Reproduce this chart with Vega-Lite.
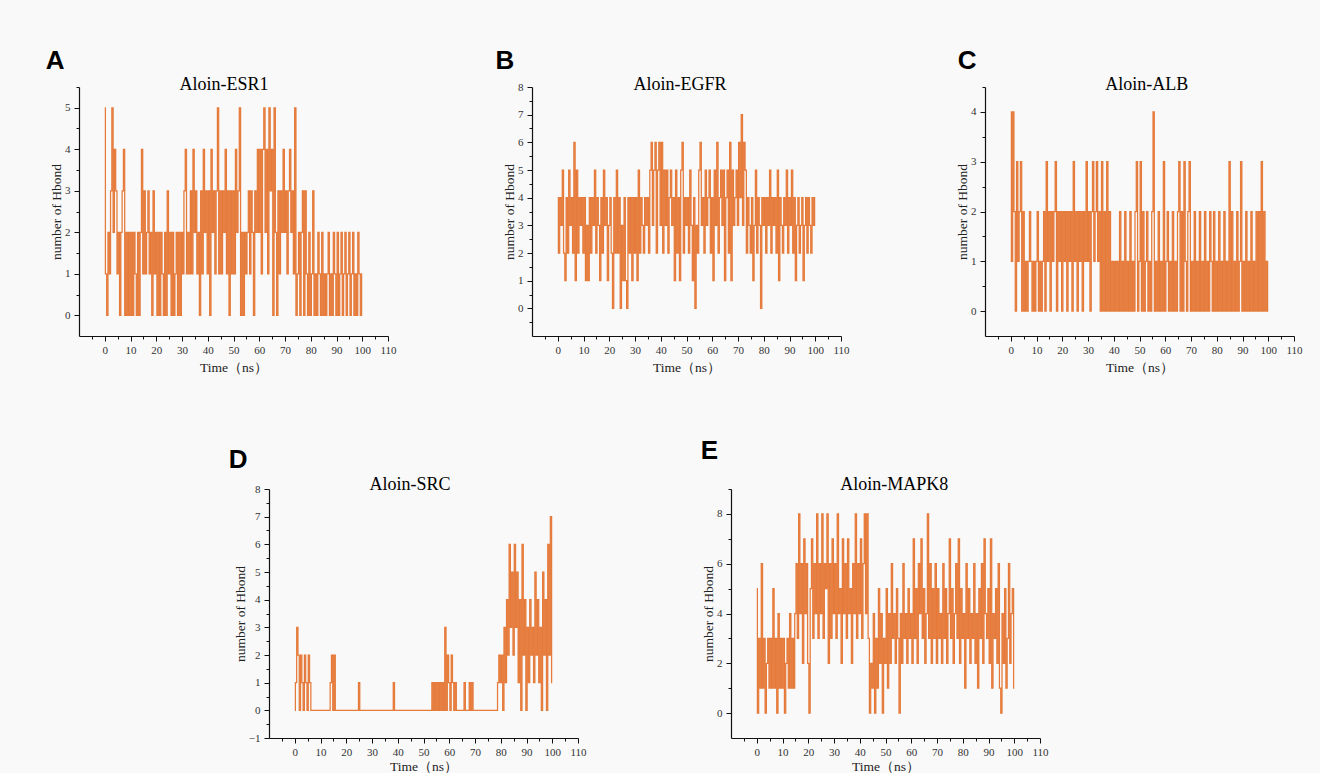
{
  "$schema": "https://vega.github.io/schema/vega-lite/v6.json",
  "autosize": "none",
  "padding": {"left": 79, "top": 87, "right": 1241, "bottom": 686},
  "background": "#f9f9f9",
  "config": {
    "view": {"stroke": null},
    "axis": {"domainColor": "#111", "domainWidth": 1.2, "tickColor": "#111", "tickWidth": 1, "tickSize": 5, "grid": false, "format": "d", "labelFont": "Liberation Serif", "labelFontSize": 11, "labelColor": "#333", "labelOverlap": false, "labelFlush": false, "titleFont": "Liberation Serif", "titleFontSize": 13.5, "titleFontWeight": "normal", "titleColor": "#222"},
    "axisX": {"labelPadding": 3, "titlePadding": 5},
    "axisY": {"labelPadding": 4, "titlePadding": 1},
    "line": {"color": "#e57a3a", "strokeWidth": 1.25, "strokeJoin": "miter", "interpolate": "step"},
    "text": {"font": "Liberation Sans", "fontWeight": "bold", "fontSize": 26, "align": "left", "baseline": "top", "color": "#000"},
    "title": {"font": "Liberation Serif", "fontSize": 18, "fontWeight": "normal", "color": "#000", "anchor": "middle", "frame": "group", "baseline": "alphabetic"}
  },
  "datasets": {
    "esr1": [
      {"t":0,"h":5},{"t":0.5,"h":1},{"t":1,"h":0},{"t":1.5,"h":2},{"t":2,"h":1},{"t":2.5,"h":3},{"t":3,"h":5},{"t":3.5,"h":2},{"t":4,"h":4},{"t":4.5,"h":3},
      {"t":5,"h":1},{"t":5.5,"h":2},{"t":6,"h":0},{"t":6.5,"h":2},{"t":7,"h":3},{"t":7.5,"h":4},{"t":8,"h":0},{"t":8.5,"h":2},{"t":9,"h":0},{"t":9.5,"h":2},
      {"t":10,"h":0},{"t":10.5,"h":2},{"t":11,"h":0},{"t":11.5,"h":2},{"t":12,"h":1},{"t":12.5,"h":0},{"t":13,"h":2},{"t":13.5,"h":0},{"t":14,"h":2},{"t":14.5,"h":4},
      {"t":15,"h":1},{"t":15.5,"h":3},{"t":16,"h":1},{"t":16.5,"h":2},{"t":17,"h":3},{"t":17.5,"h":1},{"t":18,"h":2},{"t":18.5,"h":0},{"t":19,"h":3},{"t":19.5,"h":1},
      {"t":20,"h":2},{"t":20.5,"h":0},{"t":21,"h":2},{"t":21.5,"h":0},{"t":22,"h":2},{"t":22.5,"h":1},{"t":23,"h":0},{"t":23.5,"h":2},{"t":24,"h":0},{"t":24.5,"h":3},
      {"t":25,"h":1},{"t":25.5,"h":2},{"t":26,"h":0},{"t":26.5,"h":2},{"t":27,"h":0},{"t":27.5,"h":1},{"t":28,"h":2},{"t":28.5,"h":0},{"t":29,"h":2},{"t":29.5,"h":0},
      {"t":30,"h":2},{"t":30.5,"h":1},{"t":31,"h":3},{"t":31.5,"h":4},{"t":32,"h":1},{"t":32.5,"h":2},{"t":33,"h":1},{"t":33.5,"h":3},{"t":34,"h":1},{"t":34.5,"h":4},
      {"t":35,"h":2},{"t":35.5,"h":3},{"t":36,"h":1},{"t":36.5,"h":2},{"t":37,"h":0},{"t":37.5,"h":3},{"t":38,"h":1},{"t":38.5,"h":4},{"t":39,"h":2},{"t":39.5,"h":3},
      {"t":40,"h":1},{"t":40.5,"h":3},{"t":41,"h":0},{"t":41.5,"h":4},{"t":42,"h":2},{"t":42.5,"h":3},{"t":43,"h":1},{"t":43.5,"h":3},{"t":44,"h":5},{"t":44.5,"h":1},
      {"t":45,"h":3},{"t":45.5,"h":1},{"t":46,"h":3},{"t":46.5,"h":2},{"t":47,"h":4},{"t":47.5,"h":1},{"t":48,"h":3},{"t":48.5,"h":0},{"t":49,"h":3},{"t":49.5,"h":1},
      {"t":50,"h":3},{"t":50.5,"h":1},{"t":51,"h":4},{"t":51.5,"h":2},{"t":52,"h":3},{"t":52.5,"h":5},{"t":53,"h":0},{"t":53.5,"h":2},{"t":54,"h":0},{"t":54.5,"h":2},
      {"t":55,"h":1},{"t":55.5,"h":2},{"t":56,"h":3},{"t":56.5,"h":1},{"t":57,"h":3},{"t":57.5,"h":2},{"t":58,"h":0},{"t":58.5,"h":3},{"t":59,"h":2},{"t":59.5,"h":4},
      {"t":60,"h":2},{"t":60.5,"h":4},{"t":61,"h":1},{"t":61.5,"h":4},{"t":62,"h":5},{"t":62.5,"h":2},{"t":63,"h":4},{"t":63.5,"h":1},{"t":64,"h":5},{"t":64.5,"h":3},
      {"t":65,"h":4},{"t":65.5,"h":0},{"t":66,"h":5},{"t":66.5,"h":2},{"t":67,"h":0},{"t":67.5,"h":3},{"t":68,"h":1},{"t":68.5,"h":3},{"t":69,"h":2},{"t":69.5,"h":4},
      {"t":70,"h":2},{"t":70.5,"h":3},{"t":71,"h":1},{"t":71.5,"h":3},{"t":72,"h":4},{"t":72.5,"h":2},{"t":73,"h":3},{"t":73.5,"h":1},{"t":74,"h":5},{"t":74.5,"h":0},
      {"t":75,"h":1},{"t":75.5,"h":2},{"t":76,"h":0},{"t":76.5,"h":2},{"t":77,"h":3},{"t":77.5,"h":0},{"t":78,"h":3},{"t":78.5,"h":1},{"t":79,"h":0},{"t":79.5,"h":2},
      {"t":80,"h":0},{"t":80.5,"h":1},{"t":81,"h":3},{"t":81.5,"h":0},{"t":82,"h":1},{"t":82.5,"h":0},{"t":83,"h":2},{"t":83.5,"h":1},{"t":84,"h":0},{"t":84.5,"h":2},
      {"t":85,"h":0},{"t":85.5,"h":1},{"t":86,"h":0},{"t":86.5,"h":1},{"t":87,"h":2},{"t":87.5,"h":0},{"t":88,"h":1},{"t":88.5,"h":0},{"t":89,"h":2},{"t":89.5,"h":1},
      {"t":90,"h":0},{"t":90.5,"h":2},{"t":91,"h":0},{"t":91.5,"h":1},{"t":92,"h":2},{"t":92.5,"h":0},{"t":93,"h":1},{"t":93.5,"h":2},{"t":94,"h":0},{"t":94.5,"h":1},
      {"t":95,"h":2},{"t":95.5,"h":0},{"t":96,"h":1},{"t":96.5,"h":2},{"t":97,"h":0},{"t":97.5,"h":1},{"t":98,"h":0},{"t":98.5,"h":2},{"t":99,"h":1},{"t":99.5,"h":0},
      {"t":100,"h":1}
    ],
    "egfr": [
      {"t":0,"h":4},{"t":0.5,"h":2},{"t":1,"h":4},{"t":1.5,"h":3},{"t":2,"h":5},{"t":2.5,"h":2},{"t":3,"h":1},{"t":3.5,"h":4},{"t":4,"h":2},{"t":4.5,"h":5},
      {"t":5,"h":3},{"t":5.5,"h":4},{"t":6,"h":2},{"t":6.5,"h":6},{"t":7,"h":1},{"t":7.5,"h":5},{"t":8,"h":2},{"t":8.5,"h":4},{"t":9,"h":3},{"t":9.5,"h":4},
      {"t":10,"h":2},{"t":10.5,"h":4},{"t":11,"h":1},{"t":11.5,"h":3},{"t":12,"h":1},{"t":12.5,"h":4},{"t":13,"h":2},{"t":13.5,"h":4},{"t":14,"h":3},{"t":14.5,"h":5},
      {"t":15,"h":2},{"t":15.5,"h":4},{"t":16,"h":3},{"t":16.5,"h":1},{"t":17,"h":4},{"t":17.5,"h":2},{"t":18,"h":5},{"t":18.5,"h":3},{"t":19,"h":4},{"t":19.5,"h":1},
      {"t":20,"h":3},{"t":20.5,"h":4},{"t":21,"h":2},{"t":21.5,"h":0},{"t":22,"h":4},{"t":22.5,"h":2},{"t":23,"h":5},{"t":23.5,"h":2},{"t":24,"h":4},{"t":24.5,"h":0},
      {"t":25,"h":3},{"t":25.5,"h":1},{"t":26,"h":4},{"t":26.5,"h":1},{"t":27,"h":0},{"t":27.5,"h":4},{"t":28,"h":2},{"t":28.5,"h":4},{"t":29,"h":1},{"t":29.5,"h":4},
      {"t":30,"h":2},{"t":30.5,"h":4},{"t":31,"h":1},{"t":31.5,"h":5},{"t":32,"h":2},{"t":32.5,"h":4},{"t":33,"h":3},{"t":33.5,"h":2},{"t":34,"h":4},{"t":34.5,"h":3},
      {"t":35,"h":4},{"t":35.5,"h":2},{"t":36,"h":5},{"t":36.5,"h":6},{"t":37,"h":3},{"t":37.5,"h":5},{"t":38,"h":6},{"t":38.5,"h":2},{"t":39,"h":5},{"t":39.5,"h":6},
      {"t":40,"h":3},{"t":40.5,"h":6},{"t":41,"h":2},{"t":41.5,"h":5},{"t":42,"h":3},{"t":42.5,"h":5},{"t":43,"h":2},{"t":43.5,"h":4},{"t":44,"h":5},{"t":44.5,"h":3},
      {"t":45,"h":4},{"t":45.5,"h":1},{"t":46,"h":5},{"t":46.5,"h":2},{"t":47,"h":4},{"t":47.5,"h":1},{"t":48,"h":5},{"t":48.5,"h":6},{"t":49,"h":2},{"t":49.5,"h":4},
      {"t":50,"h":3},{"t":50.5,"h":4},{"t":51,"h":2},{"t":51.5,"h":5},{"t":52,"h":3},{"t":52.5,"h":1},{"t":53,"h":4},{"t":53.5,"h":0},{"t":54,"h":3},{"t":54.5,"h":2},
      {"t":55,"h":5},{"t":55.5,"h":6},{"t":56,"h":3},{"t":56.5,"h":4},{"t":57,"h":2},{"t":57.5,"h":5},{"t":58,"h":3},{"t":58.5,"h":4},{"t":59,"h":5},{"t":59.5,"h":2},
      {"t":60,"h":4},{"t":60.5,"h":1},{"t":61,"h":5},{"t":61.5,"h":3},{"t":62,"h":6},{"t":62.5,"h":2},{"t":63,"h":4},{"t":63.5,"h":5},{"t":64,"h":3},{"t":64.5,"h":5},
      {"t":65,"h":1},{"t":65.5,"h":4},{"t":66,"h":5},{"t":66.5,"h":2},{"t":67,"h":6},{"t":67.5,"h":1},{"t":68,"h":5},{"t":68.5,"h":3},{"t":69,"h":4},{"t":69.5,"h":5},
      {"t":70,"h":3},{"t":70.5,"h":6},{"t":71,"h":4},{"t":71.5,"h":7},{"t":72,"h":3},{"t":72.5,"h":6},{"t":73,"h":5},{"t":73.5,"h":2},{"t":74,"h":4},{"t":74.5,"h":3},
      {"t":75,"h":2},{"t":75.5,"h":4},{"t":76,"h":1},{"t":76.5,"h":3},{"t":77,"h":5},{"t":77.5,"h":2},{"t":78,"h":4},{"t":78.5,"h":3},{"t":79,"h":0},{"t":79.5,"h":4},
      {"t":80,"h":3},{"t":80.5,"h":4},{"t":81,"h":2},{"t":81.5,"h":4},{"t":82,"h":3},{"t":82.5,"h":5},{"t":83,"h":2},{"t":83.5,"h":4},{"t":84,"h":3},{"t":84.5,"h":4},
      {"t":85,"h":2},{"t":85.5,"h":5},{"t":86,"h":1},{"t":86.5,"h":4},{"t":87,"h":3},{"t":87.5,"h":2},{"t":88,"h":4},{"t":88.5,"h":3},{"t":89,"h":5},{"t":89.5,"h":2},
      {"t":90,"h":4},{"t":90.5,"h":3},{"t":91,"h":5},{"t":91.5,"h":2},{"t":92,"h":4},{"t":92.5,"h":1},{"t":93,"h":3},{"t":93.5,"h":4},{"t":94,"h":2},{"t":94.5,"h":3},
      {"t":95,"h":4},{"t":95.5,"h":1},{"t":96,"h":3},{"t":96.5,"h":4},{"t":97,"h":2},{"t":97.5,"h":4},{"t":98,"h":3},{"t":98.5,"h":2},{"t":99,"h":4},{"t":99.5,"h":3},
      {"t":100,"h":4}
    ],
    "alb": [
      {"t":0,"h":4},{"t":0.5,"h":1},{"t":1,"h":4},{"t":1.5,"h":2},{"t":2,"h":0},{"t":2.5,"h":3},{"t":3,"h":1},{"t":3.5,"h":2},{"t":4,"h":3},{"t":4.5,"h":0},
      {"t":5,"h":2},{"t":5.5,"h":0},{"t":6,"h":1},{"t":6.5,"h":0},{"t":7,"h":1},{"t":7.5,"h":2},{"t":8,"h":1},{"t":8.5,"h":0},{"t":9,"h":1},{"t":9.5,"h":0},
      {"t":10,"h":1},{"t":10.5,"h":2},{"t":11,"h":0},{"t":11.5,"h":1},{"t":12,"h":0},{"t":12.5,"h":1},{"t":13,"h":2},{"t":13.5,"h":0},{"t":14,"h":3},{"t":14.5,"h":1},
      {"t":15,"h":2},{"t":15.5,"h":0},{"t":16,"h":2},{"t":16.5,"h":1},{"t":17,"h":2},{"t":17.5,"h":3},{"t":18,"h":0},{"t":18.5,"h":2},{"t":19,"h":1},{"t":19.5,"h":2},
      {"t":20,"h":0},{"t":20.5,"h":2},{"t":21,"h":1},{"t":21.5,"h":2},{"t":22,"h":0},{"t":22.5,"h":2},{"t":23,"h":1},{"t":23.5,"h":2},{"t":24,"h":0},{"t":24.5,"h":3},
      {"t":25,"h":1},{"t":25.5,"h":2},{"t":26,"h":0},{"t":26.5,"h":2},{"t":27,"h":1},{"t":27.5,"h":2},{"t":28,"h":0},{"t":28.5,"h":2},{"t":29,"h":1},{"t":29.5,"h":3},
      {"t":30,"h":1},{"t":30.5,"h":2},{"t":31,"h":0},{"t":31.5,"h":2},{"t":32,"h":3},{"t":32.5,"h":1},{"t":33,"h":2},{"t":33.5,"h":3},{"t":34,"h":1},{"t":34.5,"h":2},
      {"t":35,"h":0},{"t":35.5,"h":3},{"t":36,"h":0},{"t":36.5,"h":2},{"t":37,"h":0},{"t":37.5,"h":3},{"t":38,"h":0},{"t":38.5,"h":2},{"t":39,"h":0},{"t":39.5,"h":1},
      {"t":40,"h":0},{"t":40.5,"h":1},{"t":41,"h":0},{"t":41.5,"h":1},{"t":42,"h":0},{"t":42.5,"h":2},{"t":43,"h":0},{"t":43.5,"h":1},{"t":44,"h":0},{"t":44.5,"h":2},
      {"t":45,"h":0},{"t":45.5,"h":1},{"t":46,"h":0},{"t":46.5,"h":2},{"t":47,"h":0},{"t":47.5,"h":1},{"t":48,"h":0},{"t":48.5,"h":2},{"t":49,"h":3},{"t":49.5,"h":0},
      {"t":50,"h":1},{"t":50.5,"h":3},{"t":51,"h":0},{"t":51.5,"h":2},{"t":52,"h":0},{"t":52.5,"h":1},{"t":53,"h":2},{"t":53.5,"h":0},{"t":54,"h":1},{"t":54.5,"h":0},
      {"t":55,"h":2},{"t":55.5,"h":4},{"t":56,"h":0},{"t":56.5,"h":1},{"t":57,"h":0},{"t":57.5,"h":2},{"t":58,"h":0},{"t":58.5,"h":1},{"t":59,"h":0},{"t":59.5,"h":3},
      {"t":60,"h":0},{"t":60.5,"h":1},{"t":61,"h":2},{"t":61.5,"h":0},{"t":62,"h":1},{"t":62.5,"h":0},{"t":63,"h":2},{"t":63.5,"h":0},{"t":64,"h":1},{"t":64.5,"h":0},
      {"t":65,"h":2},{"t":65.5,"h":3},{"t":66,"h":0},{"t":66.5,"h":2},{"t":67,"h":0},{"t":67.5,"h":3},{"t":68,"h":1},{"t":68.5,"h":0},{"t":69,"h":2},{"t":69.5,"h":3},
      {"t":70,"h":0},{"t":70.5,"h":1},{"t":71,"h":0},{"t":71.5,"h":2},{"t":72,"h":0},{"t":72.5,"h":1},{"t":73,"h":0},{"t":73.5,"h":2},{"t":74,"h":0},{"t":74.5,"h":1},
      {"t":75,"h":0},{"t":75.5,"h":2},{"t":76,"h":0},{"t":76.5,"h":1},{"t":77,"h":0},{"t":77.5,"h":2},{"t":78,"h":1},{"t":78.5,"h":0},{"t":79,"h":2},{"t":79.5,"h":0},
      {"t":80,"h":1},{"t":80.5,"h":0},{"t":81,"h":2},{"t":81.5,"h":0},{"t":82,"h":1},{"t":82.5,"h":0},{"t":83,"h":2},{"t":83.5,"h":0},{"t":84,"h":1},{"t":84.5,"h":0},
      {"t":85,"h":3},{"t":85.5,"h":0},{"t":86,"h":2},{"t":86.5,"h":0},{"t":87,"h":1},{"t":87.5,"h":0},{"t":88,"h":2},{"t":88.5,"h":0},{"t":89,"h":1},{"t":89.5,"h":3},
      {"t":90,"h":0},{"t":90.5,"h":1},{"t":91,"h":0},{"t":91.5,"h":2},{"t":92,"h":0},{"t":92.5,"h":1},{"t":93,"h":0},{"t":93.5,"h":2},{"t":94,"h":0},{"t":94.5,"h":1},
      {"t":95,"h":0},{"t":95.5,"h":2},{"t":96,"h":0},{"t":96.5,"h":2},{"t":97,"h":0},{"t":97.5,"h":3},{"t":98,"h":0},{"t":98.5,"h":2},{"t":99,"h":0},{"t":99.5,"h":1},
      {"t":100,"h":0}
    ],
    "src": [
      {"t":0,"h":0},{"t":0.5,"h":1},{"t":1,"h":3},{"t":1.5,"h":2},{"t":2,"h":0},{"t":2.5,"h":2},{"t":3,"h":1},{"t":3.5,"h":0},{"t":4,"h":2},{"t":4.5,"h":1},
      {"t":5,"h":0},{"t":5.5,"h":2},{"t":6,"h":1},{"t":6.5,"h":0},{"t":7,"h":0},{"t":7.5,"h":0},{"t":8,"h":0},{"t":8.5,"h":0},{"t":9,"h":0},{"t":9.5,"h":0},
      {"t":10,"h":0},{"t":10.5,"h":0},{"t":11,"h":0},{"t":11.5,"h":0},{"t":12,"h":0},{"t":12.5,"h":0},{"t":13,"h":0},{"t":13.5,"h":0},{"t":14,"h":1},{"t":14.5,"h":2},
      {"t":15,"h":0},{"t":15.5,"h":2},{"t":16,"h":0},{"t":16.5,"h":0},{"t":17,"h":0},{"t":17.5,"h":0},{"t":18,"h":0},{"t":18.5,"h":0},{"t":19,"h":0},{"t":19.5,"h":0},
      {"t":20,"h":0},{"t":20.5,"h":0},{"t":21,"h":0},{"t":21.5,"h":0},{"t":22,"h":0},{"t":22.5,"h":0},{"t":23,"h":0},{"t":23.5,"h":0},{"t":24,"h":0},{"t":24.5,"h":0},
      {"t":25,"h":1},{"t":25.5,"h":0},{"t":26,"h":0},{"t":26.5,"h":0},{"t":27,"h":0},{"t":27.5,"h":0},{"t":28,"h":0},{"t":28.5,"h":0},{"t":29,"h":0},{"t":29.5,"h":0},
      {"t":30,"h":0},{"t":30.5,"h":0},{"t":31,"h":0},{"t":31.5,"h":0},{"t":32,"h":0},{"t":32.5,"h":0},{"t":33,"h":0},{"t":33.5,"h":0},{"t":34,"h":0},{"t":34.5,"h":0},
      {"t":35,"h":0},{"t":35.5,"h":0},{"t":36,"h":0},{"t":36.5,"h":0},{"t":37,"h":0},{"t":37.5,"h":0},{"t":38,"h":0},{"t":38.5,"h":1},{"t":39,"h":0},{"t":39.5,"h":0},
      {"t":40,"h":0},{"t":40.5,"h":0},{"t":41,"h":0},{"t":41.5,"h":0},{"t":42,"h":0},{"t":42.5,"h":0},{"t":43,"h":0},{"t":43.5,"h":0},{"t":44,"h":0},{"t":44.5,"h":0},
      {"t":45,"h":0},{"t":45.5,"h":0},{"t":46,"h":0},{"t":46.5,"h":0},{"t":47,"h":0},{"t":47.5,"h":0},{"t":48,"h":0},{"t":48.5,"h":0},{"t":49,"h":0},{"t":49.5,"h":0},
      {"t":50,"h":0},{"t":50.5,"h":0},{"t":51,"h":0},{"t":51.5,"h":0},{"t":52,"h":0},{"t":52.5,"h":0},{"t":53,"h":0},{"t":53.5,"h":1},{"t":54,"h":0},{"t":54.5,"h":1},
      {"t":55,"h":0},{"t":55.5,"h":1},{"t":56,"h":0},{"t":56.5,"h":1},{"t":57,"h":0},{"t":57.5,"h":1},{"t":58,"h":0},{"t":58.5,"h":3},{"t":59,"h":0},{"t":59.5,"h":2},
      {"t":60,"h":1},{"t":60.5,"h":0},{"t":61,"h":2},{"t":61.5,"h":1},{"t":62,"h":0},{"t":62.5,"h":1},{"t":63,"h":0},{"t":63.5,"h":0},{"t":64,"h":0},{"t":64.5,"h":0},
      {"t":65,"h":0},{"t":65.5,"h":0},{"t":66,"h":1},{"t":66.5,"h":0},{"t":67,"h":0},{"t":67.5,"h":0},{"t":68,"h":1},{"t":68.5,"h":0},{"t":69,"h":1},{"t":69.5,"h":0},
      {"t":70,"h":0},{"t":70.5,"h":0},{"t":71,"h":0},{"t":71.5,"h":0},{"t":72,"h":0},{"t":72.5,"h":0},{"t":73,"h":0},{"t":73.5,"h":0},{"t":74,"h":0},{"t":74.5,"h":0},
      {"t":75,"h":0},{"t":75.5,"h":0},{"t":76,"h":0},{"t":76.5,"h":0},{"t":77,"h":0},{"t":77.5,"h":0},{"t":78,"h":0},{"t":78.5,"h":0},{"t":79,"h":1},{"t":79.5,"h":2},
      {"t":80,"h":1},{"t":80.5,"h":2},{"t":81,"h":0},{"t":81.5,"h":3},{"t":82,"h":1},{"t":82.5,"h":4},{"t":83,"h":2},{"t":83.5,"h":6},{"t":84,"h":3},{"t":84.5,"h":5},
      {"t":85,"h":2},{"t":85.5,"h":6},{"t":86,"h":3},{"t":86.5,"h":5},{"t":87,"h":1},{"t":87.5,"h":4},{"t":88,"h":0},{"t":88.5,"h":6},{"t":89,"h":2},{"t":89.5,"h":4},
      {"t":90,"h":0},{"t":90.5,"h":3},{"t":91,"h":1},{"t":91.5,"h":4},{"t":92,"h":2},{"t":92.5,"h":3},{"t":93,"h":1},{"t":93.5,"h":5},{"t":94,"h":2},{"t":94.5,"h":4},
      {"t":95,"h":1},{"t":95.5,"h":3},{"t":96,"h":0},{"t":96.5,"h":5},{"t":97,"h":2},{"t":97.5,"h":4},{"t":98,"h":0},{"t":98.5,"h":6},{"t":99,"h":2},{"t":99.5,"h":7},
      {"t":100,"h":1}
    ],
    "mapk8": [
      {"t":0,"h":5},{"t":0.5,"h":0},{"t":1,"h":3},{"t":1.5,"h":1},{"t":2,"h":6},{"t":2.5,"h":1},{"t":3,"h":3},{"t":3.5,"h":0},{"t":4,"h":2},{"t":4.5,"h":3},
      {"t":5,"h":1},{"t":5.5,"h":3},{"t":6,"h":1},{"t":6.5,"h":5},{"t":7,"h":1},{"t":7.5,"h":3},{"t":8,"h":0},{"t":8.5,"h":4},{"t":9,"h":1},{"t":9.5,"h":3},
      {"t":10,"h":1},{"t":10.5,"h":3},{"t":11,"h":0},{"t":11.5,"h":2},{"t":12,"h":3},{"t":12.5,"h":1},{"t":13,"h":4},{"t":13.5,"h":1},{"t":14,"h":3},{"t":14.5,"h":1},
      {"t":15,"h":4},{"t":15.5,"h":6},{"t":16,"h":3},{"t":16.5,"h":8},{"t":17,"h":4},{"t":17.5,"h":6},{"t":18,"h":2},{"t":18.5,"h":7},{"t":19,"h":4},{"t":19.5,"h":6},
      {"t":20,"h":2},{"t":20.5,"h":0},{"t":21,"h":5},{"t":21.5,"h":7},{"t":22,"h":3},{"t":22.5,"h":6},{"t":23,"h":4},{"t":23.5,"h":8},{"t":24,"h":3},{"t":24.5,"h":6},
      {"t":25,"h":4},{"t":25.5,"h":8},{"t":26,"h":3},{"t":26.5,"h":6},{"t":27,"h":5},{"t":27.5,"h":8},{"t":28,"h":2},{"t":28.5,"h":6},{"t":29,"h":3},{"t":29.5,"h":7},
      {"t":30,"h":4},{"t":30.5,"h":6},{"t":31,"h":3},{"t":31.5,"h":8},{"t":32,"h":4},{"t":32.5,"h":5},{"t":33,"h":2},{"t":33.5,"h":7},{"t":34,"h":4},{"t":34.5,"h":6},
      {"t":35,"h":3},{"t":35.5,"h":7},{"t":36,"h":4},{"t":36.5,"h":5},{"t":37,"h":2},{"t":37.5,"h":6},{"t":38,"h":4},{"t":38.5,"h":8},{"t":39,"h":3},{"t":39.5,"h":6},
      {"t":40,"h":4},{"t":40.5,"h":7},{"t":41,"h":3},{"t":41.5,"h":6},{"t":42,"h":8},{"t":42.5,"h":4},{"t":43,"h":8},{"t":43.5,"h":3},{"t":44,"h":0},{"t":44.5,"h":2},
      {"t":45,"h":1},{"t":45.5,"h":4},{"t":46,"h":0},{"t":46.5,"h":3},{"t":47,"h":1},{"t":47.5,"h":5},{"t":48,"h":2},{"t":48.5,"h":4},{"t":49,"h":0},{"t":49.5,"h":3},
      {"t":50,"h":2},{"t":50.5,"h":5},{"t":51,"h":1},{"t":51.5,"h":4},{"t":52,"h":2},{"t":52.5,"h":6},{"t":53,"h":3},{"t":53.5,"h":4},{"t":54,"h":2},{"t":54.5,"h":5},
      {"t":55,"h":3},{"t":55.5,"h":0},{"t":56,"h":4},{"t":56.5,"h":2},{"t":57,"h":6},{"t":57.5,"h":3},{"t":58,"h":4},{"t":58.5,"h":2},{"t":59,"h":5},{"t":59.5,"h":3},
      {"t":60,"h":4},{"t":60.5,"h":2},{"t":61,"h":7},{"t":61.5,"h":3},{"t":62,"h":5},{"t":62.5,"h":2},{"t":63,"h":6},{"t":63.5,"h":4},{"t":64,"h":7},{"t":64.5,"h":3},
      {"t":65,"h":5},{"t":65.5,"h":2},{"t":66,"h":4},{"t":66.5,"h":8},{"t":67,"h":3},{"t":67.5,"h":6},{"t":68,"h":2},{"t":68.5,"h":5},{"t":69,"h":3},{"t":69.5,"h":6},
      {"t":70,"h":2},{"t":70.5,"h":5},{"t":71,"h":3},{"t":71.5,"h":4},{"t":72,"h":2},{"t":72.5,"h":6},{"t":73,"h":3},{"t":73.5,"h":5},{"t":74,"h":2},{"t":74.5,"h":4},
      {"t":75,"h":7},{"t":75.5,"h":3},{"t":76,"h":5},{"t":76.5,"h":2},{"t":77,"h":4},{"t":77.5,"h":6},{"t":78,"h":3},{"t":78.5,"h":7},{"t":79,"h":2},{"t":79.5,"h":5},
      {"t":80,"h":3},{"t":80.5,"h":4},{"t":81,"h":1},{"t":81.5,"h":6},{"t":82,"h":3},{"t":82.5,"h":5},{"t":83,"h":2},{"t":83.5,"h":4},{"t":84,"h":3},{"t":84.5,"h":6},
      {"t":85,"h":2},{"t":85.5,"h":4},{"t":86,"h":1},{"t":86.5,"h":5},{"t":87,"h":3},{"t":87.5,"h":6},{"t":88,"h":2},{"t":88.5,"h":7},{"t":89,"h":4},{"t":89.5,"h":3},
      {"t":90,"h":5},{"t":90.5,"h":2},{"t":91,"h":7},{"t":91.5,"h":1},{"t":92,"h":4},{"t":92.5,"h":3},{"t":93,"h":5},{"t":93.5,"h":2},{"t":94,"h":6},{"t":94.5,"h":1},
      {"t":95,"h":0},{"t":95.5,"h":4},{"t":96,"h":2},{"t":96.5,"h":5},{"t":97,"h":1},{"t":97.5,"h":3},{"t":98,"h":6},{"t":98.5,"h":2},{"t":99,"h":4},{"t":99.5,"h":5},
      {"t":100,"h":1}
    ]
  },
  "vconcat": [
    {
      "hconcat": [
        {
          "width": 309, "height": 249,
          "title": {"text": "Aloin-ESR1", "dx": -9.5, "offset": -46.4},
          "resolve": {"axis": {"x": "independent", "y": "independent"}},
          "layer": [
            {
              "data": {"name": "esr1"},
              "mark": {"type": "line"},
              "encoding": {
                "x": {"field": "t", "type": "quantitative", "scale": {"domain": [-10, 110], "nice": false, "zero": false},
                      "axis": {"title": "Time（ns）", "orient": "bottom", "values": [-5,0,5,10,15,20,25,30,35,40,45,50,55,60,65,70,75,80,85,90,95,100,105,110], "labelExpr": "datum.value >= 0 && datum.value % 10 == 0 ? datum.label : ''", "tickDash": {"condition": {"test": "datum.value % 10 != 0", "value": [3, 10]}, "value": []}}},
                "y": {"field": "h", "type": "quantitative", "scale": {"domain": [-0.5, 5.5], "nice": false, "zero": false},
                      "axis": {"title": "number of Hbond", "orient": "left", "values": [0,0.5,1,1.5,2,2.5,3,3.5,4,4.5,5,5.5], "labelExpr": "datum.value % 1 == 0 ? datum.label : ''", "tickDash": {"condition": {"test": "datum.value % 1 != 0", "value": [3, 10]}, "value": []}}}
              }
            },
            {
              "data": {"values": [{"panel": "A"}]},
              "mark": {"type": "text", "clip": false},
              "encoding": {
                "x": {"datum": -22.93, "type": "quantitative", "axis": null},
                "y": {"datum": 6.449, "type": "quantitative", "axis": null},
                "text": {"field": "panel"}
              }
            }
          ]
        },
        {
          "width": 309, "height": 249,
          "title": {"text": "Aloin-EGFR", "dx": -6.5, "offset": -46.4},
          "resolve": {"axis": {"x": "independent", "y": "independent"}},
          "layer": [
            {
              "data": {"name": "egfr"},
              "mark": {"type": "line"},
              "encoding": {
                "x": {"field": "t", "type": "quantitative", "scale": {"domain": [-10, 110], "nice": false, "zero": false},
                      "axis": {"title": "Time（ns）", "orient": "bottom", "values": [-5,0,5,10,15,20,25,30,35,40,45,50,55,60,65,70,75,80,85,90,95,100,105,110], "labelExpr": "datum.value >= 0 && datum.value % 10 == 0 ? datum.label : ''", "tickDash": {"condition": {"test": "datum.value % 10 != 0", "value": [3, 10]}, "value": []}}},
                "y": {"field": "h", "type": "quantitative", "scale": {"domain": [-1, 8], "nice": false, "zero": false},
                      "axis": {"title": "number of Hbond", "orient": "left", "values": [-0.5,0,0.5,1,1.5,2,2.5,3,3.5,4,4.5,5,5.5,6,6.5,7,7.5,8], "labelExpr": "datum.value % 1 == 0 ? datum.label : ''", "tickDash": {"condition": {"test": "datum.value % 1 != 0", "value": [3, 10]}, "value": []}}}
              }
            },
            {
              "data": {"values": [{"panel": "B"}]},
              "mark": {"type": "text", "clip": false},
              "encoding": {
                "x": {"datum": -24.21, "type": "quantitative", "axis": null},
                "y": {"datum": 9.424, "type": "quantitative", "axis": null},
                "text": {"field": "panel"}
              }
            }
          ]
        },
        {
          "width": 309, "height": 249,
          "title": {"text": "Aloin-ALB", "dx": 7.2, "offset": -46.4},
          "resolve": {"axis": {"x": "independent", "y": "independent"}},
          "layer": [
            {
              "data": {"name": "alb"},
              "mark": {"type": "line"},
              "encoding": {
                "x": {"field": "t", "type": "quantitative", "scale": {"domain": [-10, 110], "nice": false, "zero": false},
                      "axis": {"title": "Time（ns）", "orient": "bottom", "values": [-5,0,5,10,15,20,25,30,35,40,45,50,55,60,65,70,75,80,85,90,95,100,105,110], "labelExpr": "datum.value >= 0 && datum.value % 10 == 0 ? datum.label : ''", "tickDash": {"condition": {"test": "datum.value % 10 != 0", "value": [3, 10]}, "value": []}}},
                "y": {"field": "h", "type": "quantitative", "scale": {"domain": [-0.5, 4.5], "nice": false, "zero": false},
                      "axis": {"title": "number of Hbond", "orient": "left", "values": [0,0.5,1,1.5,2,2.5,3,3.5,4,4.5], "labelExpr": "datum.value % 1 == 0 ? datum.label : ''", "tickDash": {"condition": {"test": "datum.value % 1 != 0", "value": [3, 10]}, "value": []}}}
              }
            },
            {
              "data": {"values": [{"panel": "C"}]},
              "mark": {"type": "text", "clip": false},
              "encoding": {
                "x": {"datum": -20.56, "type": "quantitative", "axis": null},
                "y": {"datum": 5.291, "type": "quantitative", "axis": null},
                "text": {"field": "panel"}
              }
            }
          ]
        }
      ],
      "spacing": 144,
      "bounds": "flush"
    },
    {
      "hconcat": [
        {
          "width": 37, "height": 249,
          "data": {"values": [{"note": ""}]},
          "mark": {"type": "text"},
          "encoding": {"text": {"field": "note"}}
        },
        {
          "width": 309, "height": 249,
          "title": {"text": "Aloin-SRC", "dx": -13.5, "offset": -46.8},
          "resolve": {"axis": {"x": "independent", "y": "independent"}},
          "layer": [
            {
              "data": {"name": "src"},
              "mark": {"type": "line"},
              "encoding": {
                "x": {"field": "t", "type": "quantitative", "scale": {"domain": [-10, 110], "nice": false, "zero": false},
                      "axis": {"title": "Time（ns）", "orient": "bottom", "titlePadding": 2, "values": [-5,0,5,10,15,20,25,30,35,40,45,50,55,60,65,70,75,80,85,90,95,100,105,110], "labelExpr": "datum.value >= 0 && datum.value % 10 == 0 ? datum.label : ''", "tickDash": {"condition": {"test": "datum.value % 10 != 0", "value": [3, 10]}, "value": []}}},
                "y": {"field": "h", "type": "quantitative", "scale": {"domain": [-1, 8], "nice": false, "zero": false},
                      "axis": {"title": "number of Hbond", "orient": "left", "values": [-1,-0.5,0,0.5,1,1.5,2,2.5,3,3.5,4,4.5,5,5.5,6,6.5,7,7.5,8], "labelExpr": "datum.value % 1 == 0 ? datum.label : ''", "tickDash": {"condition": {"test": "datum.value % 1 != 0", "value": [3, 10]}, "value": []}}}
              }
            },
            {
              "data": {"values": [{"panel": "D"}]},
              "mark": {"type": "text", "clip": false},
              "encoding": {
                "x": {"datum": -25.61, "type": "quantitative", "axis": null},
                "y": {"datum": 9.522, "type": "quantitative", "axis": null},
                "text": {"field": "panel"}
              }
            }
          ]
        },
        {
          "width": 309, "height": 249,
          "title": {"text": "Aloin-MAPK8", "dx": 8.8, "offset": -55.4},
          "resolve": {"axis": {"x": "independent", "y": "independent"}},
          "layer": [
            {
              "data": {"name": "mapk8"},
              "mark": {"type": "line"},
              "encoding": {
                "x": {"field": "t", "type": "quantitative", "scale": {"domain": [-10, 110], "nice": false, "zero": false},
                      "axis": {"title": "Time（ns）", "orient": "bottom", "titlePadding": 2, "values": [-5,0,5,10,15,20,25,30,35,40,45,50,55,60,65,70,75,80,85,90,95,100,105,110], "labelExpr": "datum.value >= 0 && datum.value % 10 == 0 ? datum.label : ''", "tickDash": {"condition": {"test": "datum.value % 10 != 0", "value": [3, 10]}, "value": []}}},
                "y": {"field": "h", "type": "quantitative", "scale": {"domain": [-1, 9], "nice": false, "zero": false},
                      "axis": {"title": "number of Hbond", "orient": "left", "values": [0,1,2,3,4,5,6,7,8,9], "labelExpr": "datum.value % 2 == 0 ? datum.label : ''", "tickDash": {"condition": {"test": "datum.value % 2 != 0", "value": [3, 10]}, "value": []}}}
              }
            },
            {
              "data": {"values": [{"panel": "E"}]},
              "mark": {"type": "text", "clip": false},
              "encoding": {
                "x": {"datum": -21.73, "type": "quantitative", "axis": null},
                "y": {"datum": 11.036, "type": "quantitative", "axis": null},
                "text": {"field": "panel"}
              }
            }
          ]
        }
      ],
      "spacing": 153,
      "bounds": "flush"
    }
  ],
  "spacing": 64
}
